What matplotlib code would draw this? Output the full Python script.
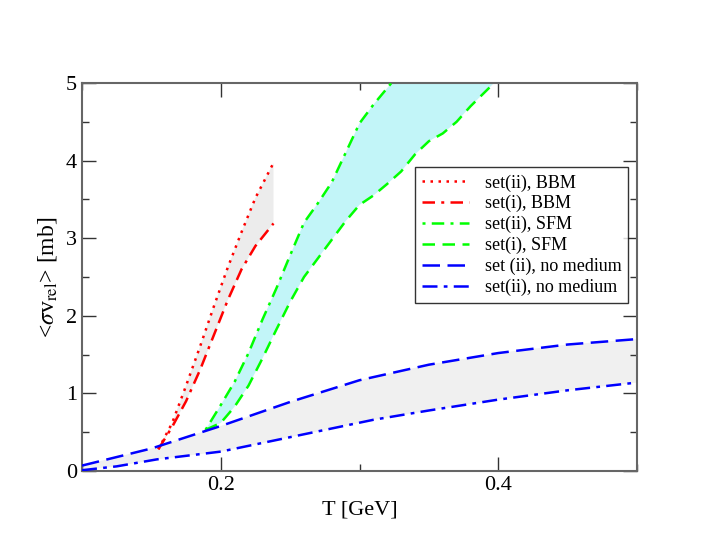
import numpy as np
import matplotlib
matplotlib.use("Agg")
import matplotlib.pyplot as plt

plt.rcParams['font.family'] = ['Liberation Serif', 'DejaVu Serif']
plt.rcParams['mathtext.fontset'] = 'stix'

# ---- data ----
# no medium, set (ii), dashed
T_nm_a = [0.10, 0.15, 0.20, 0.25, 0.30, 0.35, 0.40, 0.45, 0.50]
s_nm_a = [0.07, 0.29, 0.58, 0.89, 1.17, 1.37, 1.52, 1.63, 1.70]
# no medium, set(ii), dash-dot
T_nm_b = [0.10, 0.125, 0.154, 0.20, 0.243, 0.31, 0.35, 0.40, 0.45, 0.50]
s_nm_b = [0.01, 0.06, 0.15, 0.25, 0.41, 0.66, 0.78, 0.92, 1.04, 1.14]

# BBM
T_bbm = [0.155, 0.165, 0.175, 0.185, 0.195, 0.205, 0.215, 0.225, 0.238]
s_bbm_ii = [0.28, 0.62, 1.10, 1.60, 2.12, 2.62, 3.08, 3.52, 3.97]
s_bbm_i = [0.28, 0.57, 0.90, 1.30, 1.75, 2.20, 2.60, 2.90, 3.19]

# SFM
T_sfm_ii = [0.189, 0.20, 0.21, 0.22, 0.23, 0.24, 0.25, 0.26, 0.27, 0.28,
            0.29, 0.30, 0.31, 0.323]
s_sfm_ii = [0.53, 0.85, 1.15, 1.52, 1.95, 2.35, 2.78, 3.20, 3.45, 3.72,
            4.10, 4.48, 4.72, 5.00]
T_sfm_i = [0.189, 0.20, 0.21, 0.22, 0.23, 0.24, 0.25, 0.26, 0.27, 0.28,
           0.29, 0.30, 0.31, 0.32, 0.33, 0.34, 0.35, 0.36, 0.37, 0.38, 0.397]
s_sfm_i = [0.53, 0.62, 0.83, 1.10, 1.45, 1.82, 2.18, 2.50, 2.74, 2.98,
           3.22, 3.43, 3.55, 3.70, 3.86, 4.08, 4.25, 4.35, 4.50, 4.70, 5.00]

labels = ["set(ii), BBM", "set(i), BBM", "set(ii), SFM", "set(i), SFM",
          "set (ii), no medium", "set(ii), no medium"]

fig = plt.figure(figsize=(7.17, 5.54), dpi=100)
ax = fig.add_axes([0.1144, 0.1498, 0.774, 0.7004])

# shaded bands (polygons built from the two bounding curves)
ax.fill(T_nm_a + T_nm_b[::-1], s_nm_a + s_nm_b[::-1],
        color='#f0f0f0', lw=0, zorder=1)
ax.fill(T_bbm + T_bbm[::-1], s_bbm_ii + s_bbm_i[::-1],
        color='#ececec', lw=0, zorder=1)
ax.fill(T_sfm_ii + T_sfm_i[::-1], s_sfm_ii + s_sfm_i[::-1],
        color='#c2f5f8', lw=0, zorder=1)

lw = 1.8
ax.plot(T_bbm, s_bbm_ii, color='#ff0000', lw=lw, ls=(0, (1, 2.2)), label=labels[0], zorder=3)
ax.plot(T_bbm, s_bbm_i, color='#ff0000', lw=lw, ls=(0, (5, 2.5, 1.2, 2.5, 5, 2.5)), label=labels[1], zorder=3)
ax.plot(T_sfm_ii, s_sfm_ii, color='#00ff00', lw=lw, ls=(0, (1.2, 2.5, 5, 2.5)), label=labels[2], zorder=3)
ax.plot(T_sfm_i, s_sfm_i, color='#00ff00', lw=lw, ls=(0, (5, 3)), label=labels[3], zorder=3)
ax.plot(T_nm_a, s_nm_a, color='#0000ff', lw=lw, ls=(0, (7, 3)), label=labels[4], zorder=3)
ax.plot(T_nm_b, s_nm_b, color='#0000ff', lw=lw, ls=(0, (6, 2.5, 1.5, 2.5)), label=labels[5], zorder=3)

ax.set_xlim(0.1, 0.5)
ax.set_ylim(0, 5)
ax.set_xticks([0.2, 0.4])
ax.set_xticklabels(["0.2", "0.4"])
ax.set_xticks([0.1, 0.3, 0.5], minor=True)
ax.set_yticks([0, 1, 2, 3, 4, 5])
ax.set_yticks(np.arange(0.5, 5, 1.0), minor=True)
ax.tick_params(which='both', direction='in', top=True, right=True,
               color='#333333', labelsize=16)
ax.tick_params(which='major', length=10, width=1)
ax.tick_params(which='minor', length=5, width=1)
for sp in ax.spines.values():
    sp.set_color('#666666')
    sp.set_linewidth(1.5)

ax.set_xlabel("T [GeV]", fontsize=16, labelpad=4)
ax.set_ylabel(r"<$\sigma$v$_{\rm rel}$> [mb]", fontsize=17, labelpad=5)

leg = ax.legend(loc='upper left', bbox_to_anchor=(0.6, 0.7835), fontsize=13,
                frameon=True, fancybox=False, edgecolor='black',
                handlelength=2.6, handletextpad=0.85, labelspacing=0.2,
                borderpad=0.4, borderaxespad=0)
leg.get_frame().set_linewidth(1.0)

fig.savefig("out.png", dpi=100)
